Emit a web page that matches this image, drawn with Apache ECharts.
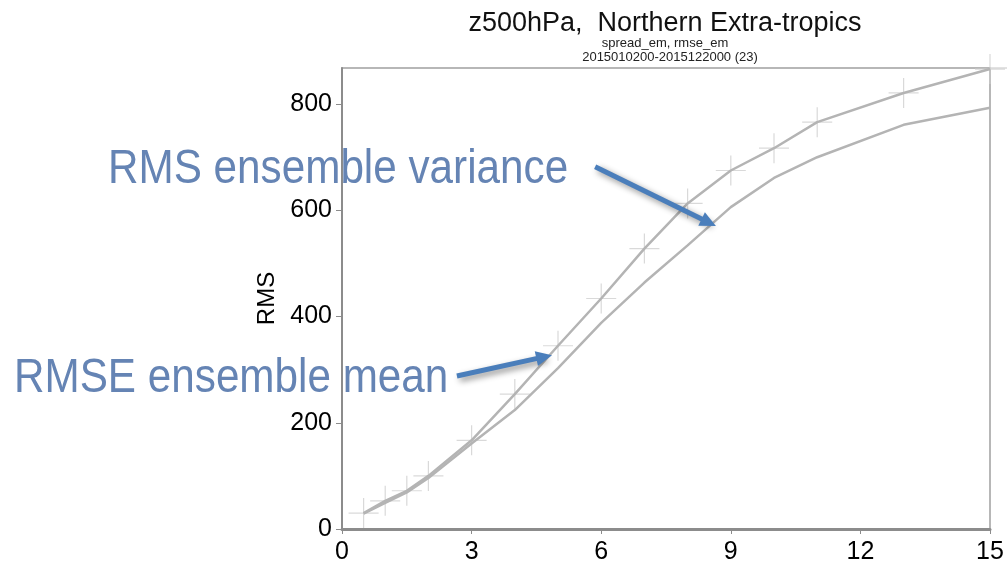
<!DOCTYPE html>
<html>
<head>
<meta charset="utf-8">
<script src="https://cdn.jsdelivr.net/npm/echarts@6/dist/echarts.min.js"></script>
<style>
html,body{margin:0;padding:0;background:#fff;}
#c{width:1007px;height:566px;}
</style>
</head>
<body>
<div id="c"></div>
<script>
// Forecast lead time (days)
const leadDays = [0.5, 1, 1.5, 2, 3, 4, 5, 6, 7, 8, 9, 10, 11, 13, 15];
// RMSE of ensemble mean (upper line, with crosses)
const rmseEm = [30, 53, 72, 100, 167, 254, 345, 434, 528, 613, 675, 717, 766, 821, 866];
// RMS ensemble spread (lower line)
const spreadEm = [29, 49, 69, 96, 161, 224, 303, 388, 464, 534, 606, 661, 700, 761, 793];
const xTicks = [0, 3, 6, 9, 12, 15];
const yTicks = [0, 200, 400, 600, 800];
// annotation arrows in data coordinates [start, end]
const arrowVariance = [[5.86, 682], [8.49, 577]];
const arrowMean = [[2.66, 288], [4.68, 324]];

const FONT = 'Liberation Sans';
const toXY = (xs, ys) => xs.map((x, i) => [x, ys[i]]);

const chart = echarts.init(document.getElementById('c'), null, {renderer: 'canvas'});
chart.setOption({
  animation: false,
  backgroundColor: '#fff',
  grid: {left: 342, right: 17, top: 68, bottom: 37, show: true, borderColor: '#a0a0a0', borderWidth: 1.5},
  xAxis: {
    type: 'value', min: 0, max: 15, interval: 3,
    axisLine: {show: true, lineStyle: {color: '#8c8c8c', width: 3}},
    axisTick: {show: true, length: 5, lineStyle: {color: '#8c8c8c', width: 1}},
    axisLabel: {color: '#000', fontFamily: FONT, fontSize: 25, margin: 11,
      customValues: xTicks},
    splitLine: {show: false}
  },
  yAxis: {
    type: 'value', min: 0, max: 868,
    name: 'RMS', nameLocation: 'middle', nameGap: 62, nameRotate: 90,
    nameTextStyle: {color: '#000', fontFamily: FONT, fontSize: 24},
    axisLine: {show: true, lineStyle: {color: '#8c8c8c', width: 2}},
    axisTick: {show: true, length: 6, lineStyle: {color: '#8c8c8c', width: 1}, customValues: yTicks},
    axisLabel: {color: '#000', fontFamily: FONT, fontSize: 25, margin: 10, customValues: yTicks},
    splitLine: {show: false}
  },
  series: [
    {
      type: 'scatter', name: 'crosses', data: toXY(leadDays, rmseEm), z: 1,
      symbol: 'path://M15 0L15 30M0 15L30 15', symbolSize: 30,
      itemStyle: {color: 'transparent', borderColor: '#d0d0d0', borderWidth: 1.2},
      silent: true
    },
    {
      type: 'line', name: 'rmse_em', data: toXY(leadDays, rmseEm), z: 2,
      showSymbol: false, lineStyle: {color: '#b4b4b4', width: 2.5}, silent: true
    },
    {
      type: 'line', name: 'spread_em', data: toXY(leadDays, spreadEm), z: 2,
      showSymbol: false, lineStyle: {color: '#b4b4b4', width: 2.5}, silent: true,
      markLine: {
        silent: true, animation: false,
        symbol: ['none', 'triangle'], symbolSize: [15, 16],
        label: {show: false},
        lineStyle: {color: '#4a7ebb', width: 5, type: 'solid',
          shadowColor: 'rgba(0,0,0,0.45)', shadowBlur: 6, shadowOffsetX: 3, shadowOffsetY: 3},
        data: [
          [{coord: arrowVariance[0]}, {coord: arrowVariance[1]}],
          [{coord: arrowMean[0]}, {coord: arrowMean[1]}]
        ]
      }
    }
  ],
  graphic: [
    {type: 'line', shape: {x1: 990, y1: 68, x2: 1007, y2: 68}, style: {stroke: '#d8d8d8', lineWidth: 1.5}},
    {type: 'text', x: 665, y: 24, style: {text: 'z500hPa,  Northern Extra-tropics', fill: '#111',
      font: '27px "Liberation Sans"', textAlign: 'center', textVerticalAlign: 'middle'}},
    {type: 'text', x: 665, y: 43, style: {text: 'spread_em, rmse_em', fill: '#222',
      font: '13px "Liberation Sans"', textAlign: 'center', textVerticalAlign: 'middle'}},
    {type: 'text', x: 670, y: 57, style: {text: '2015010200-2015122000 (23)', fill: '#222',
      font: '13px "Liberation Sans"', textAlign: 'center', textVerticalAlign: 'middle'}},
    {type: 'text', x: 108, y: 170, scaleX: 0.88, z: 10, style: {text: 'RMS ensemble variance', fill: '#6584b4',
      font: '48px "Liberation Sans"', textAlign: 'left', textVerticalAlign: 'middle'}},
    {type: 'text', x: 14, y: 379, scaleX: 0.88, z: 10, style: {text: 'RMSE ensemble mean', fill: '#6584b4',
      font: '48px "Liberation Sans"', textAlign: 'left', textVerticalAlign: 'middle'}}
  ]
});
</script>
</body>
</html>
